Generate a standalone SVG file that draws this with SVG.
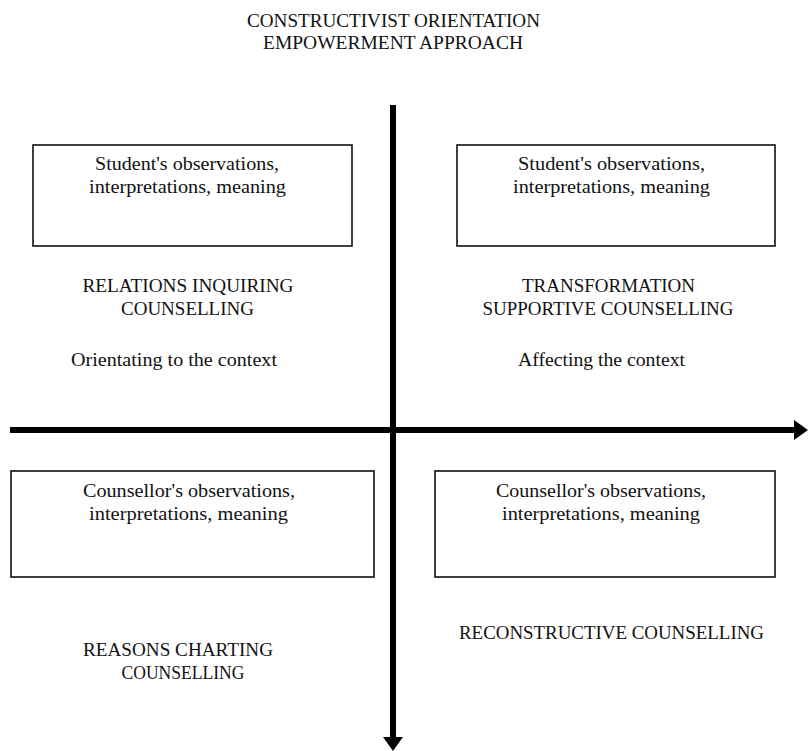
<svg xmlns="http://www.w3.org/2000/svg" width="808" height="751" viewBox="0 0 808 751">
<style>
text{font-family:"Liberation Serif","Times New Roman",serif;font-size:19px;fill:#111;text-anchor:middle}
.box{fill:#fff;stroke:#111;stroke-width:1.6}
.axis{stroke:#000;stroke-width:6;fill:none}
</style>
<defs>
<marker id="ah" markerUnits="userSpaceOnUse" markerWidth="14" markerHeight="20" refX="0" refY="10" orient="auto" viewBox="0 0 14 20">
<path d="M0,0 L14,10 L0,20 z" fill="#000"/>
</marker>
</defs>
<rect width="808" height="751" fill="#fff"/>
<g id="title">
<text x="393.5" y="27" textLength="293" lengthAdjust="spacingAndGlyphs">CONSTRUCTIVIST ORIENTATION</text>
<text x="393" y="49" textLength="260" lengthAdjust="spacingAndGlyphs">EMPOWERMENT APPROACH</text>
</g>
<g id="connectors">
<line class="axis" x1="393" y1="105" x2="393" y2="737" marker-end="url(#ah)"/>
<line class="axis" x1="10" y1="430" x2="794" y2="430" marker-end="url(#ah)"/>
</g>
<g id="box-top-left">
<rect class="box" x="33" y="145" width="319" height="101"/>
<text x="187" y="170" textLength="184" lengthAdjust="spacingAndGlyphs">Student's observations,</text>
<text x="187.5" y="193" textLength="197" lengthAdjust="spacingAndGlyphs">interpretations, meaning</text>
</g>
<g id="box-top-right">
<rect class="box" x="457" y="145" width="318" height="101"/>
<text x="611.5" y="170" textLength="187" lengthAdjust="spacingAndGlyphs">Student's observations,</text>
<text x="611.5" y="193" textLength="197" lengthAdjust="spacingAndGlyphs">interpretations, meaning</text>
</g>
<g id="box-bottom-left">
<rect class="box" x="11" y="471" width="363" height="106"/>
<text x="189" y="497" textLength="212" lengthAdjust="spacingAndGlyphs">Counsellor's observations,</text>
<text x="188.5" y="520" textLength="199" lengthAdjust="spacingAndGlyphs">interpretations, meaning</text>
</g>
<g id="box-bottom-right">
<rect class="box" x="435" y="471" width="340" height="106"/>
<text x="601" y="497" textLength="210" lengthAdjust="spacingAndGlyphs">Counsellor's observations,</text>
<text x="601" y="520" textLength="198" lengthAdjust="spacingAndGlyphs">interpretations, meaning</text>
</g>
<g id="label-relations">
<text x="188" y="292" textLength="211" lengthAdjust="spacingAndGlyphs">RELATIONS INQUIRING</text>
<text x="187.5" y="315" textLength="133" lengthAdjust="spacingAndGlyphs">COUNSELLING</text>
</g>
<g id="label-transformation">
<text x="608.5" y="292" textLength="173" lengthAdjust="spacingAndGlyphs">TRANSFORMATION</text>
<text x="608" y="315" textLength="251" lengthAdjust="spacingAndGlyphs">SUPPORTIVE COUNSELLING</text>
</g>
<g id="label-orientating">
<text x="174" y="366" textLength="206" lengthAdjust="spacingAndGlyphs">Orientating to the context</text>
</g>
<g id="label-affecting">
<text x="601.5" y="366" textLength="167" lengthAdjust="spacingAndGlyphs">Affecting the context</text>
</g>
<g id="label-reasons">
<text x="178" y="656" textLength="190" lengthAdjust="spacingAndGlyphs">REASONS CHARTING</text>
<text x="183" y="679" textLength="123" lengthAdjust="spacingAndGlyphs">COUNSELLING</text>
</g>
<g id="label-reconstructive">
<text x="611.5" y="639" textLength="305" lengthAdjust="spacingAndGlyphs">RECONSTRUCTIVE COUNSELLING</text>
</g>
</svg>
